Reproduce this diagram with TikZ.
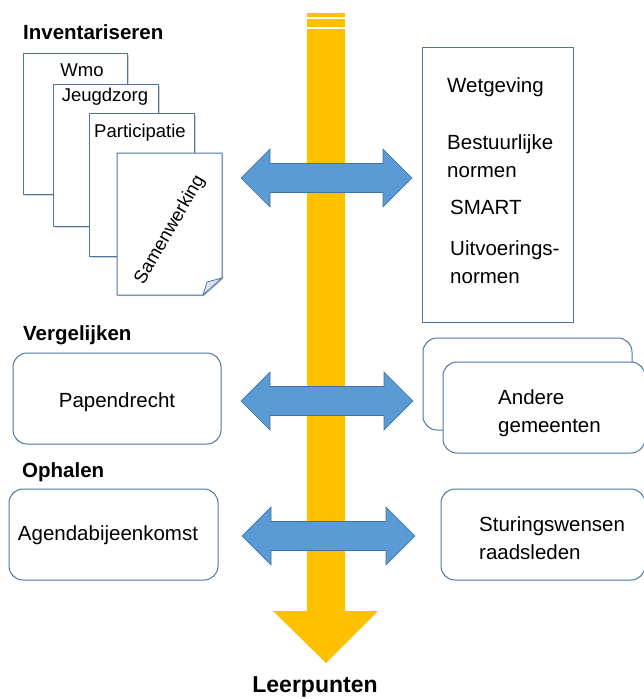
\documentclass[tikz,border=0pt]{standalone}
\usepackage{fontspec}
\setmainfont{Liberation Sans}
\usetikzlibrary{positioning,calc,shadows}
\definecolor{lijnblauw}{RGB}{79,117,163}
\definecolor{pijlblauw}{RGB}{91,155,213}
\definecolor{pijlrand}{RGB}{65,113,156}
\definecolor{geel}{RGB}{255,192,0}
\tikzset{
kop/.style={
  font=\fontsize{20.5}{24}\selectfont\bfseries,
  inner sep=0pt
  },
blad/.style={
  draw=lijnblauw,
  fill=white,
  line width=1pt,
  drop shadow={shadow xshift=1.2pt,shadow yshift=-1.2pt,opacity=0.35}
  },
bladtekst/.style={
  font=\fontsize{18.5}{22}\selectfont,
  inner sep=0pt
  },
kader/.style={
  draw=lijnblauw,
  fill=white,
  line width=1pt,
  rounded corners=14pt
  },
tekst/.style={
  font=\fontsize{20.5}{28.5}\selectfont,
  inner sep=0pt
  }
}
\tikzset{
  dikpijl/.style={
    fill=pijlblauw,draw=pijlrand,line width=0.6pt,
    to path={let \p1=(\tikztostart), \p2=(\tikztotarget) in
      (\x1,\y1) -- (\x1+29pt,\y1+29pt) -- (\x1+29pt,\y1+14.5pt)
      -- (\x2-29pt,\y1+14.5pt) -- (\x2-29pt,\y1+29pt) -- (\x2,\y1)
      -- (\x2-29pt,\y1-29pt) -- (\x2-29pt,\y1-14.5pt)
      -- (\x1+29pt,\y1-14.5pt) -- (\x1+29pt,\y1-29pt) -- cycle}
  }
}

\begin{document}
\begin{tikzpicture}[x=1pt,y=-1pt]
\useasboundingbox (0,0) rectangle (644,699);

% gele pijl
\fill[geel] (307,13) rectangle (345,17);
\fill[geel] (307,19) rectangle (345,27);
\fill[geel] (307,29) -- (345,29) -- (345,611) -- (378,611)
  -- (326,663) -- (273,611) -- (307,611) -- cycle;
\node[kop,font=\fontsize{23}{26}\selectfont\bfseries] (leerpunten)
  at (315,687) {Leerpunten};

% Inventariseren
\node[kop,anchor=west] (inventariseren) at (23,32) {Inventariseren};

\node[blad,minimum width=104,minimum height=141,anchor=north west]
  (wmo) at (23,53) {};
\node[bladtekst] (wmo-t) at (82,70) {Wmo};

\node[blad,minimum width=105,minimum height=142,anchor=north west]
  (jeugd) at (53,84) {};
\node[bladtekst] (jeugd-t) at (105,97) {Jeugdzorg};

\node[blad,minimum width=105,minimum height=143,anchor=north west]
  (part) at (89,113) {};
\node[bladtekst] (part-t) at (140,133) {Participatie};

\draw[blad] (117,153) -- (222,153) -- (222,278) -- (203,295)
  -- (117,295) -- cycle;
\draw[draw=lijnblauw,fill=lijnblauw!20,line width=0.8pt]
  (222,278) -- (207,282) -- (203,295) -- cycle;
\node[bladtekst,rotate=60] (samen-t) at (170,230) {Samenwerking};

\node[draw=lijnblauw,line width=1pt,minimum width=151,minimum height=275,
  anchor=north west] (normen) at (422,47) {};
\node[tekst,anchor=west] (wet) at (447,87) {Wetgeving};
\node[tekst,anchor=west,align=left] (bestuur) at (447,156)
  {Bestuurlijke\\normen};
\node[tekst,anchor=west] (smart) at (450,207) {SMART};
\node[tekst,anchor=west,align=left] (uitvoer) at (450,262)
  {Uitvoerings-\\normen};

% Vergelijken
\node[kop,anchor=west] (vergelijken) at (23,335) {Vergelijken};
\draw[kader] (13,353) rectangle (221,444);
\node[tekst] (papendrecht) at (117,402) {Papendrecht};

\draw[kader] (423,338) rectangle (632,430);
\draw[kader] (443,362) rectangle (645,453);
\node[tekst,anchor=west,align=left] (andere) at (498,413)
  {Andere\\gemeenten};

% Ophalen
\node[kop,anchor=west] (ophalen) at (22,472) {Ophalen};
\draw[kader] (9,489) rectangle (218,580);
\node[tekst] (agenda) at (108,535) {Agendabijeenkomst};

\draw[kader] (441,489) rectangle (645,580);
\node[tekst,anchor=west,align=left] (sturing) at (479,538)
  {Sturingswensen\\raadsleden};

% blauwe pijlen
\coordinate (inv-l) at (241,178);
\coordinate (inv-r) at (412,178);
\draw[dikpijl] (inv-l) to (inv-r);

\coordinate (verg-l) at (241,401);
\coordinate (verg-r) at (413,401);
\draw[dikpijl] (verg-l) to (verg-r);

\coordinate (oph-l) at (242,536);
\coordinate (oph-r) at (415,536);
\draw[dikpijl] (oph-l) to (oph-r);

\end{tikzpicture}
\end{document}
